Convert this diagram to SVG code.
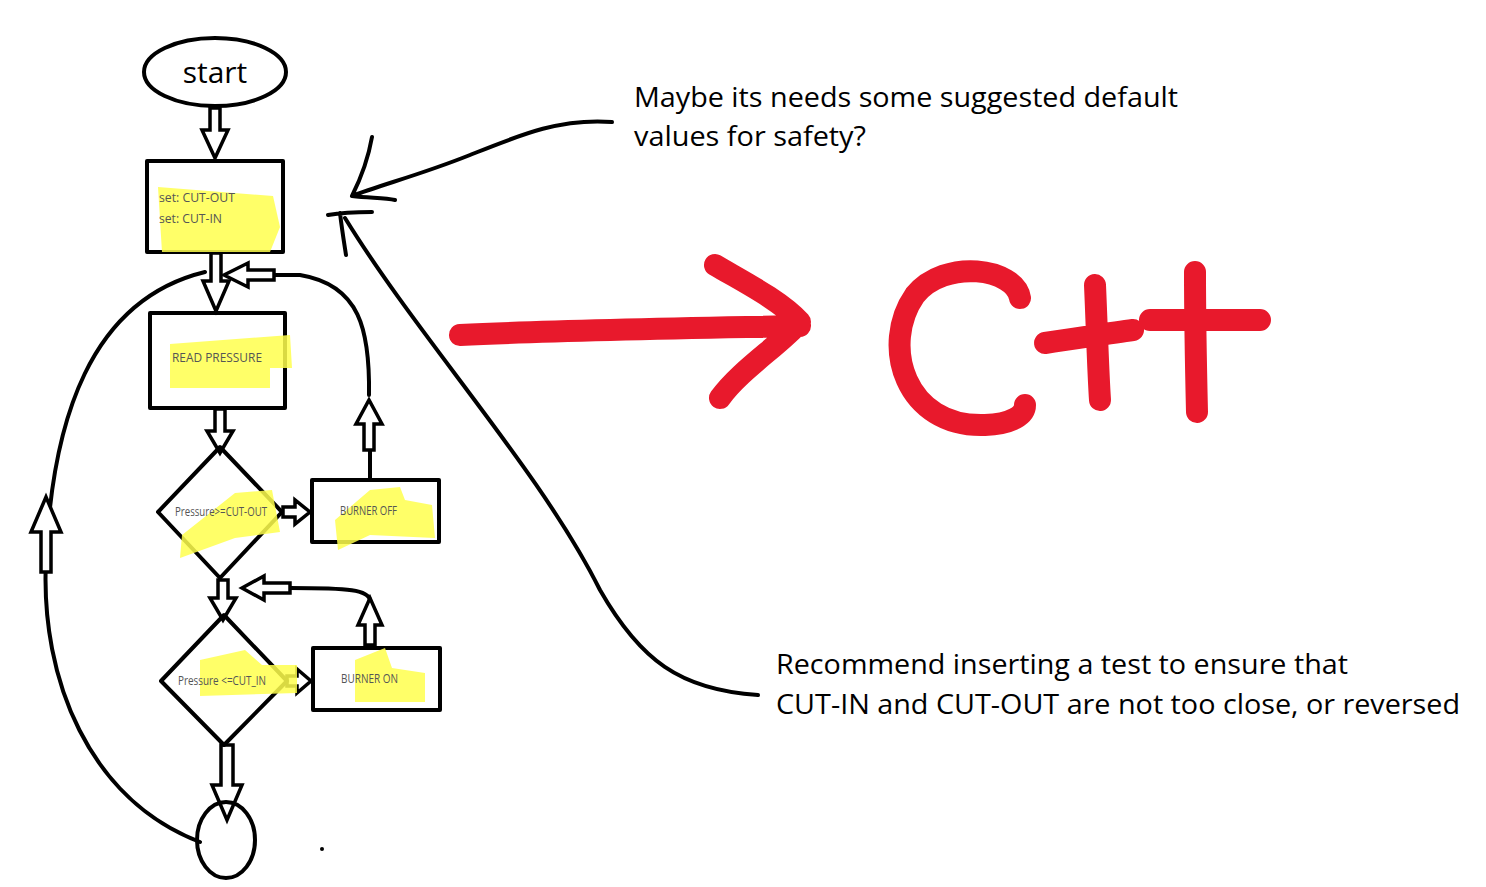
<svg xmlns="http://www.w3.org/2000/svg" width="1486" height="887" viewBox="0 0 1486 887">
<style>
.s{fill:none;stroke:#000;stroke-width:4;stroke-linecap:round;stroke-linejoin:round}
.h{fill:#fff;stroke:#000;stroke-width:3.5;stroke-linejoin:miter}
.hl{fill:#ffff4d;opacity:.85}
.t{font-family:"Open Sans",sans-serif;font-size:13px;fill:#555}
.big{font-family:"Open Sans",sans-serif;font-size:27px;fill:#000}
.r{fill:none;stroke:#e8192c;stroke-width:22;stroke-linecap:round;stroke-linejoin:round}
</style>
<rect width="1486" height="887" fill="#fff"/>
<g id="connectors">
<path class="s" d="M200,842 C90,800 40,680 46,560 C52,420 90,300 205,272"/>
<path class="s" d="M370,480 L370,450"/>
<path class="s" d="M369,395 C370,330 360,285 300,275 L270,275"/>
<path class="s" d="M370,648 L370,640"/>
<path class="s" d="M370,600 C368,590 350,588 290,588"/>
<path class="h" d="M210,108 h10 v22 h8 l-13,28 l-13,-28 h8 z"/>
<path class="h" d="M211,253 h10 v28 h8 l-13,30 l-13,-30 h8 z"/>
<path class="h" d="M215,409 h10 v22 h8 l-13,22 l-13,-22 h8 z"/>
<path class="h" d="M283,507 h12 v-7 l15,12 l-15,12 v-7 h-12 z"/>
<path class="h" d="M218,580 h10 v18 h8 l-13,22 l-13,-22 h8 z"/>
<path class="h" d="M287,676 h10 v-7 l14,12 l-14,12 v-7 h-10 z"/>
<path class="h" d="M221,745 h12 v40 h9 l-15,35 l-15,-35 h9 z"/>
<path class="h" d="M364,450 v-26 h-8 l13,-24 l13,24 h-8 v26 z"/>
<path class="h" d="M365,645 v-20 h-7 l12,-27 l12,27 h-7 v20 z"/>
<path class="h" d="M41,572 v-40 h-10 l15,-35 l15,35 h-10 v40 z"/>
<path class="h" d="M274,270 h-26 v-7 l-24,12 l24,12 v-7 h26 z"/>
<path class="h" d="M290,583 h-26 v-7 l-22,12 l22,12 v-7 h26 z"/>
<path class="s" d="M612,122 C560,118 520,135 470,155 C420,175 380,185 352,196 M372,137 C368,160 360,180 352,196 C370,198 385,198 395,200" stroke-width="2.5"/>
<path class="s" d="M758,695 C680,690 640,660 600,590 C540,470 420,340 345,218" stroke-width="5"/>
<path class="s" d="M328,215 C345,212 360,212 372,212 M340,213 C342,230 344,242 346,255" stroke-width="6"/>
<path class="r" d="M460,335 C560,330 700,328 800,326 M715,265 C740,280 780,300 800,322 C780,345 740,370 720,398"/>
</g>
<g id="start"><ellipse cx="215" cy="72" rx="71" ry="34" class="s" fill="#fff"/><text x="215" y="83" text-anchor="middle" font-family="Open Sans,sans-serif" font-size="30">start</text></g>
<g id="set">
<rect x="147" y="161" width="136" height="91" class="s"/>
<path class="hl" d="M158,187 L273,196 L280,227 L270,252 L162,252 Z"/>
<text class="t" x="159" y="202" textLength="76" lengthAdjust="spacingAndGlyphs">set: CUT-OUT</text><text class="t" x="159" y="223" textLength="63" lengthAdjust="spacingAndGlyphs">set: CUT-IN</text></g>
<g id="read">
<rect x="150" y="313" width="135" height="95" class="s"/>
<path class="hl" d="M170,344 L290,335 L292,368 L270,368 L270,388 L170,388 Z"/>
<text class="t" x="172" y="362" textLength="90" lengthAdjust="spacingAndGlyphs">READ PRESSURE</text></g>
<g id="d1">
<path class="s" d="M220,447 L282,512 L220,578 L158,512 Z"/>
<path class="hl" d="M182,535 L235,493 L272,490 L280,532 L235,538 L180,558 Z"/>
<text class="t" x="175" y="516" font-size="11" textLength="92" lengthAdjust="spacingAndGlyphs">Pressure&gt;=CUT-OUT</text></g>
<g id="off">
<rect x="312" y="480" width="127" height="62" class="s"/>
<path class="hl" d="M335,520 L370,490 L400,487 L405,500 L432,505 L435,538 L370,535 L338,550 Z"/>
<text class="t" x="340" y="515" font-size="11" textLength="57" lengthAdjust="spacingAndGlyphs">BURNER OFF</text></g>
<g id="d2">
<path class="s" d="M224,615 L287,681 L224,745 L161,681 Z"/>
<path class="hl" d="M200,660 L245,650 L262,665 L297,665 L297,693 L200,696 Z"/>
<text class="t" x="178" y="685" font-size="11" textLength="88" lengthAdjust="spacingAndGlyphs">Pressure &lt;=CUT_IN</text></g>
<g id="on">
<rect x="313" y="648" width="127" height="62" class="s"/>
<path class="hl" d="M355,660 L385,648 L392,668 L425,673 L425,702 L355,702 Z"/>
<text class="t" x="341" y="683" font-size="11" textLength="57" lengthAdjust="spacingAndGlyphs">BURNER  ON</text></g>
<g id="end"><ellipse cx="226" cy="840" rx="29" ry="38" class="s" fill="#fff"/></g>
<circle cx="322" cy="849" r="2"/>
<path class="r" d="M1020,298 C1015,268 945,258 915,295 C880,345 905,428 985,425 C1012,424 1025,415 1025,405"/>
<path class="r" d="M1045,343 C1080,338 1110,333 1133,330 M1095,285 C1097,330 1098,370 1100,400 M1150,320 L1260,320 M1195,272 C1195,320 1196,370 1197,412"/>
<text class="big" x="634" y="107" textLength="544" lengthAdjust="spacingAndGlyphs">Maybe its needs some suggested default</text>
<text class="big" x="634" y="146" textLength="232" lengthAdjust="spacingAndGlyphs">values for safety?</text>
<text class="big" x="776" y="674" textLength="572" lengthAdjust="spacingAndGlyphs">Recommend inserting a test to ensure that</text>
<text class="big" x="776" y="714" textLength="684" lengthAdjust="spacingAndGlyphs">CUT-IN and CUT-OUT are not too close, or reversed</text>
</svg>
